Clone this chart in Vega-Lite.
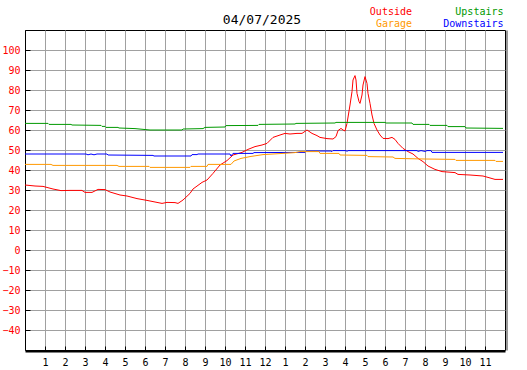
{
  "$schema": "https://vega.github.io/schema/vega-lite/v6.json",
  "width": 480,
  "height": 320,
  "autosize": {"type": "none"},
  "padding": {"left": 25, "top": 30, "right": 22, "bottom": 20},
  "background": "white",
  "title": {"text": "04/07/2025", "font": "DejaVu Sans Mono", "fontSize": 13, "fontWeight": "normal", "color": "black", "anchor": "middle", "offset": 4, "dx": -3, "dy": 25},
  "datasets": {
    "temps": [
      {"s":"Outside","h":0,"v":32.5},{"s":"Outside","h":0.5,"v":32},{"s":"Outside","h":0.9,"v":31.8},{"s":"Outside","h":1.4,"v":30.5},{"s":"Outside","h":1.8,"v":29.7},{"s":"Outside","h":2.25,"v":29.8},{"s":"Outside","h":2.85,"v":29.8},{"s":"Outside","h":3.0,"v":28.8},{"s":"Outside","h":3.35,"v":28.8},{"s":"Outside","h":3.65,"v":30.3},{"s":"Outside","h":4.0,"v":30.2},{"s":"Outside","h":4.25,"v":29},{"s":"Outside","h":4.75,"v":27.5},{"s":"Outside","h":5.1,"v":27},{"s":"Outside","h":5.6,"v":25.7},{"s":"Outside","h":6.1,"v":24.8},{"s":"Outside","h":6.6,"v":23.8},{"s":"Outside","h":6.85,"v":23.3},{"s":"Outside","h":7.1,"v":23.8},{"s":"Outside","h":7.5,"v":23.7},{"s":"Outside","h":7.65,"v":23.3},{"s":"Outside","h":7.9,"v":25},{"s":"Outside","h":8.25,"v":28.3},{"s":"Outside","h":8.4,"v":30.5},{"s":"Outside","h":8.85,"v":33.8},{"s":"Outside","h":9.1,"v":35},{"s":"Outside","h":9.4,"v":38.3},{"s":"Outside","h":9.75,"v":42.5},{"s":"Outside","h":10.1,"v":44.7},{"s":"Outside","h":10.4,"v":47.5},{"s":"Outside","h":10.85,"v":48.8},{"s":"Outside","h":11.15,"v":50.3},{"s":"Outside","h":11.5,"v":51.7},{"s":"Outside","h":11.85,"v":52.5},{"s":"Outside","h":12.1,"v":53.3},{"s":"Outside","h":12.4,"v":56.3},{"s":"Outside","h":12.75,"v":57.5},{"s":"Outside","h":13.0,"v":58.3},{"s":"Outside","h":13.25,"v":58},{"s":"Outside","h":13.6,"v":58.3},{"s":"Outside","h":13.85,"v":58.3},{"s":"Outside","h":14.1,"v":60},{"s":"Outside","h":14.35,"v":58.3},{"s":"Outside","h":14.6,"v":57.2},{"s":"Outside","h":14.75,"v":56.3},{"s":"Outside","h":15.1,"v":55.7},{"s":"Outside","h":15.4,"v":55.5},{"s":"Outside","h":15.55,"v":56.7},{"s":"Outside","h":15.65,"v":59.7},{"s":"Outside","h":15.8,"v":60.8},{"s":"Outside","h":15.9,"v":60},{"s":"Outside","h":16.0,"v":59.5},{"s":"Outside","h":16.1,"v":63.3},{"s":"Outside","h":16.25,"v":72.5},{"s":"Outside","h":16.35,"v":79.2},{"s":"Outside","h":16.4,"v":85},{"s":"Outside","h":16.5,"v":87.2},{"s":"Outside","h":16.55,"v":85},{"s":"Outside","h":16.6,"v":78.3},{"s":"Outside","h":16.7,"v":74.2},{"s":"Outside","h":16.75,"v":73.3},{"s":"Outside","h":16.85,"v":77.5},{"s":"Outside","h":16.9,"v":82.5},{"s":"Outside","h":17.0,"v":86.7},{"s":"Outside","h":17.1,"v":83.3},{"s":"Outside","h":17.15,"v":78.3},{"s":"Outside","h":17.25,"v":73.3},{"s":"Outside","h":17.35,"v":67.5},{"s":"Outside","h":17.45,"v":63.3},{"s":"Outside","h":17.6,"v":60},{"s":"Outside","h":17.75,"v":57.5},{"s":"Outside","h":17.9,"v":55.8},{"s":"Outside","h":18.15,"v":55.7},{"s":"Outside","h":18.35,"v":56.3},{"s":"Outside","h":18.5,"v":55.3},{"s":"Outside","h":18.65,"v":53.3},{"s":"Outside","h":18.9,"v":50.8},{"s":"Outside","h":19.15,"v":49.2},{"s":"Outside","h":19.4,"v":48},{"s":"Outside","h":19.65,"v":45.8},{"s":"Outside","h":19.9,"v":44.2},{"s":"Outside","h":20.15,"v":42},{"s":"Outside","h":20.5,"v":40.3},{"s":"Outside","h":20.85,"v":39.2},{"s":"Outside","h":21.5,"v":38.7},{"s":"Outside","h":21.65,"v":37.8},{"s":"Outside","h":22.25,"v":37.5},{"s":"Outside","h":22.9,"v":37},{"s":"Outside","h":23.15,"v":36.3},{"s":"Outside","h":23.5,"v":35.3},{"s":"Outside","h":23.9,"v":35.3},
      {"s":"Upstairs","h":0,"v":63.3},{"s":"Upstairs","h":1.15,"v":63.3},{"s":"Upstairs","h":1.2,"v":62.8},{"s":"Upstairs","h":2.3,"v":62.8},{"s":"Upstairs","h":2.35,"v":62.5},{"s":"Upstairs","h":3.8,"v":62.3},{"s":"Upstairs","h":3.85,"v":61.8},{"s":"Upstairs","h":4.0,"v":61.8},{"s":"Upstairs","h":4.05,"v":61.3},{"s":"Upstairs","h":4.65,"v":61.3},{"s":"Upstairs","h":4.7,"v":61.0},{"s":"Upstairs","h":5.5,"v":60.7},{"s":"Upstairs","h":6.25,"v":60},{"s":"Upstairs","h":7.85,"v":60},{"s":"Upstairs","h":7.9,"v":60.5},{"s":"Upstairs","h":8.9,"v":60.7},{"s":"Upstairs","h":9.0,"v":61.3},{"s":"Upstairs","h":10.0,"v":61.5},{"s":"Upstairs","h":10.05,"v":62.2},{"s":"Upstairs","h":11.65,"v":62.3},{"s":"Upstairs","h":11.7,"v":62.8},{"s":"Upstairs","h":13.5,"v":63},{"s":"Upstairs","h":13.55,"v":63.3},{"s":"Upstairs","h":15.5,"v":63.5},{"s":"Upstairs","h":15.55,"v":63.8},{"s":"Upstairs","h":18.0,"v":63.8},{"s":"Upstairs","h":18.05,"v":63.5},{"s":"Upstairs","h":19.35,"v":63.5},{"s":"Upstairs","h":19.4,"v":62.8},{"s":"Upstairs","h":20.2,"v":62.8},{"s":"Upstairs","h":20.25,"v":62.3},{"s":"Upstairs","h":21.1,"v":62.3},{"s":"Upstairs","h":21.15,"v":61.7},{"s":"Upstairs","h":22.0,"v":61.7},{"s":"Upstairs","h":22.05,"v":61},{"s":"Upstairs","h":23.9,"v":60.8},
      {"s":"Downstairs","h":0,"v":48},{"s":"Downstairs","h":3.05,"v":48},{"s":"Downstairs","h":3.15,"v":47.6},{"s":"Downstairs","h":3.3,"v":48},{"s":"Downstairs","h":3.45,"v":47.6},{"s":"Downstairs","h":3.6,"v":48},{"s":"Downstairs","h":4.1,"v":48},{"s":"Downstairs","h":4.15,"v":47.5},{"s":"Downstairs","h":6.4,"v":47.3},{"s":"Downstairs","h":6.45,"v":47},{"s":"Downstairs","h":8.3,"v":47},{"s":"Downstairs","h":8.35,"v":47.7},{"s":"Downstairs","h":8.6,"v":47.7},{"s":"Downstairs","h":8.65,"v":48},{"s":"Downstairs","h":10.25,"v":48},{"s":"Downstairs","h":10.3,"v":47},{"s":"Downstairs","h":10.4,"v":48.3},{"s":"Downstairs","h":11.4,"v":48.3},{"s":"Downstairs","h":11.45,"v":48.7},{"s":"Downstairs","h":14.0,"v":48.8},{"s":"Downstairs","h":14.05,"v":49.5},{"s":"Downstairs","h":15.3,"v":49.5},{"s":"Downstairs","h":15.35,"v":49.2},{"s":"Downstairs","h":15.4,"v":49.7},{"s":"Downstairs","h":16.05,"v":49.7},{"s":"Downstairs","h":16.1,"v":49.3},{"s":"Downstairs","h":16.15,"v":49.7},{"s":"Downstairs","h":19.6,"v":49.7},{"s":"Downstairs","h":19.65,"v":49.3},{"s":"Downstairs","h":19.8,"v":49.7},{"s":"Downstairs","h":20.0,"v":49.3},{"s":"Downstairs","h":20.1,"v":49.7},{"s":"Downstairs","h":20.3,"v":49.7},{"s":"Downstairs","h":20.35,"v":48.8},{"s":"Downstairs","h":23.9,"v":48.8},
      {"s":"Garage","h":0,"v":42.8},{"s":"Garage","h":1.3,"v":42.8},{"s":"Garage","h":1.4,"v":42.3},{"s":"Garage","h":4.6,"v":42.3},{"s":"Garage","h":4.7,"v":41.8},{"s":"Garage","h":6.2,"v":41.8},{"s":"Garage","h":6.25,"v":41.3},{"s":"Garage","h":8.25,"v":41.3},{"s":"Garage","h":8.3,"v":41.8},{"s":"Garage","h":9.1,"v":41.8},{"s":"Garage","h":9.15,"v":42.8},{"s":"Garage","h":10.3,"v":42.8},{"s":"Garage","h":10.45,"v":44.5},{"s":"Garage","h":10.8,"v":45.8},{"s":"Garage","h":11.25,"v":46.7},{"s":"Garage","h":11.9,"v":47.7},{"s":"Garage","h":12.9,"v":48.3},{"s":"Garage","h":13.5,"v":48.7},{"s":"Garage","h":13.75,"v":49.2},{"s":"Garage","h":14.7,"v":49.2},{"s":"Garage","h":14.75,"v":48.3},{"s":"Garage","h":15.7,"v":48.3},{"s":"Garage","h":15.75,"v":47.5},{"s":"Garage","h":17.1,"v":47.3},{"s":"Garage","h":17.15,"v":46.7},{"s":"Garage","h":18.4,"v":46.5},{"s":"Garage","h":18.5,"v":45.8},{"s":"Garage","h":20.0,"v":45.5},{"s":"Garage","h":21.5,"v":45.3},{"s":"Garage","h":21.55,"v":44.8},{"s":"Garage","h":23.5,"v":44.8},{"s":"Garage","h":23.55,"v":44.3},{"s":"Garage","h":23.9,"v":44.3}
    ]
  },
  "data": {"name": "temps"},
  "encoding": {
    "x": {
      "field": "h", "type": "quantitative",
      "scale": {"domain": [0, 24], "nice": false, "zero": false},
      "axis": {
        "values": [1,2,3,4,5,6,7,8,9,10,11,12,13,14,15,16,17,18,19,20,21,22,23],
        "labelExpr": "datum.value % 12 == 0 ? '12' : '' + (datum.value % 12)",
        "title": null, "grid": true, "gridColor": "#a0a0a0", "gridWidth": 1, "gridOpacity": 1,
        "tickSize": -5, "tickColor": "black", "tickWidth": 1, "labelPadding": 11,
        "labelColor": "black", "labelFont": "DejaVu Sans Mono", "labelFontSize": 10,
        "labelFlush": false, "labelOverlap": false, "labelBound": false,
        "domainColor": "black", "domainWidth": 2, "offset": 1
      }
    },
    "color": {
      "field": "s", "type": "nominal",
      "scale": {"domain": ["Outside", "Garage", "Upstairs", "Downstairs"], "range": ["#ff0000", "#ff9900", "#009900", "#0000ff"]},
      "legend": {
        "orient": "none", "legendX": 337, "legendY": -24.5, "columns": 2, "title": null,
        "symbolType": "M-1,-0.05L1,-0.05L1,0.05L-1,0.05Z", "symbolSize": 2500, "symbolOpacity": 0, "symbolStrokeWidth": 0,
        "labelAlign": "right", "labelOffset": 0, "labelFont": "DejaVu Sans Mono", "labelFontSize": 10,
        "clipHeight": 12,
        "columnPadding": 30.5, "rowPadding": 0, "padding": 0,
        "encode": {"labels": {"update": {"fill": {"scale": "color", "field": "value"}}}}
      }
    }
  },
  "layer": [
    {
      "mark": {"type": "line", "strokeWidth": 1, "interpolate": "linear"},
      "encoding": {
        "y": {
          "field": "v", "type": "quantitative",
          "scale": {"domain": [-50, 110], "nice": false, "zero": false},
          "axis": {
            "orient": "left",
            "values": [-40,-30,-20,-10,0,10,20,30,40,50,60,70,80,90,100],
            "title": null, "grid": true, "gridColor": "#a0a0a0", "gridWidth": 1, "gridOpacity": 1,
            "tickSize": -5, "tickColor": "black", "tickWidth": 1, "labelPadding": 10,
            "labelColor": "#ff0000", "labelFont": "DejaVu Sans Mono", "labelFontSize": 10,
            "labelFlush": false, "labelOverlap": false, "labelBound": false,
            "domainColor": "black", "domainWidth": 1
          }
        }
      }
    },
    {
      "mark": {"type": "line", "strokeWidth": 1, "opacity": 0},
      "encoding": {
        "y": {
          "field": "v", "type": "quantitative",
          "scale": {"domain": [-50, 110], "nice": false, "zero": false},
          "axis": {
            "orient": "right", "title": null, "labels": false, "ticks": false, "grid": false,
            "domainColor": "#9a9a9a", "domainWidth": 2, "offset": 1.5
          }
        }
      }
    }
  ],
  "resolve": {"axis": {"y": "independent"}},
  "config": {
    "view": {"stroke": "black", "strokeWidth": 1},
    "font": "DejaVu Sans Mono"
  }
}
